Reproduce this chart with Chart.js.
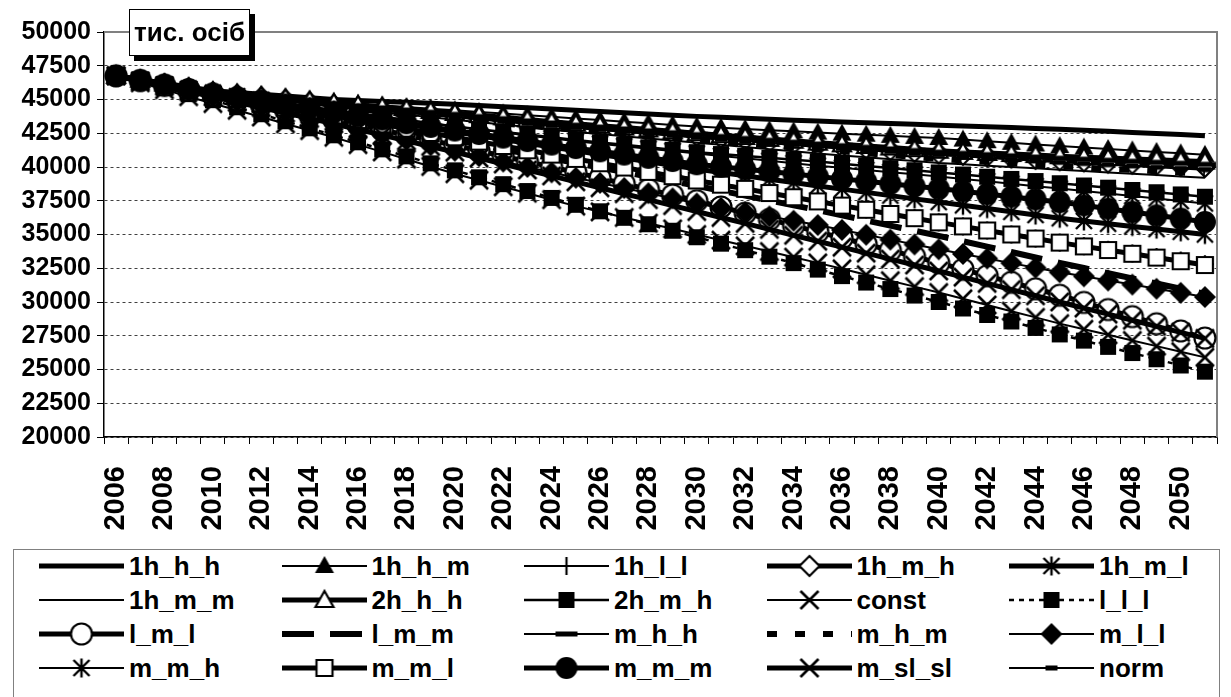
<!DOCTYPE html>
<html><head><meta charset="utf-8">
<script src="https://cdn.jsdelivr.net/npm/chart.js@4.4.0/dist/chart.umd.min.js"></script>
<style>
html,body{margin:0;padding:0;background:#fff;}
#wrap{position:relative;width:1231px;height:697px;overflow:hidden;background:#fff;}
#c{position:absolute;left:0;top:0;}
#unit{position:absolute;left:129px;top:9px;width:119px;height:45px;border:1px solid #000;background:#fff;box-shadow:5px 5px 0 #000;font:bold 26px "Liberation Sans",Arial,sans-serif;display:flex;align-items:center;justify-content:center;color:#000;}
#legend{position:absolute;left:13px;top:549px;width:1205px;height:170px;border:1px solid #808080;background:#fff;}
.li{position:absolute;height:30px;width:240px;}
.li canvas{position:absolute;left:0;top:0;}
.li span{position:absolute;left:90px;top:0;line-height:30px;font:bold 26px "Liberation Sans",Arial,sans-serif;white-space:nowrap;color:#000;}
</style></head>
<body>
<div id="wrap">
<canvas id="c" width="1231" height="697"></canvas>
<div id="unit">тис. осіб</div>
<div id="legend"></div>
</div>
<script>
// ---- data ----
const years = [2006,2007,2008,2009,2010,2011,2012,2013,2014,2015,2016,2017,2018,2019,2020,2021,2022,2023,2024,2025,2026,2027,2028,2029,2030,2031,2032,2033,2034,2035,2036,2037,2038,2039,2040,2041,2042,2043,2044,2045,2046,2047,2048,2049,2050,2051];
const yTicks = [20000,22500,25000,27500,30000,32500,35000,37500,40000,42500,45000,47500,50000];
const seriesNames = ['1h_h_h','1h_h_m','1h_l_l','1h_m_h','1h_m_l','1h_m_m','2h_h_h','2h_m_h','const','l_l_l','l_m_l','l_m_m','m_h_h','m_h_m','m_l_l','m_m_h','m_m_l','m_m_m','m_sl_sl','norm'];

const s_1h_h_h = [46750,46480,46200,45930,45650,45520,45390,45260,45130,45000,44930,44860,44790,44720,44650,44560,44470,44380,44290,44200,44110,44020,43930,43840,43750,43680,43610,43540,43470,43400,43340,43280,43220,43160,43100,43040,42980,42920,42860,42800,42720,42640,42560,42480,42400,42320];
const s_1h_h_m = [46750,46460,46180,45890,45600,45440,45280,45120,44960,44800,44680,44560,44440,44320,44200,44080,43960,43840,43720,43600,43480,43360,43240,43120,43000,42910,42820,42730,42640,42550,42470,42390,42310,42230,42150,42030,41910,41790,41670,41550,41440,41330,41230,41120,41010,40900];
const s_1h_l_l = [46750,46390,46030,45660,45300,44990,44680,44370,44060,43750,43440,43130,42820,42510,42200,41880,41560,41240,40920,40600,40300,40000,39700,39400,39100,38780,38460,38140,37820,37500,37180,36860,36540,36220,35900,35600,35300,35000,34700,34400,34130,33870,33600,33330,33070,32800];
const s_1h_m_h = [46750,46450,46150,45850,45550,45360,45170,44980,44790,44600,44440,44280,44120,43960,43800,43640,43480,43320,43160,43000,42860,42720,42580,42440,42300,42160,42020,41880,41740,41600,41480,41360,41240,41120,41000,40900,40800,40700,40600,40500,40420,40330,40250,40170,40080,40000];
const s_1h_m_l = [46750,46410,46080,45740,45400,45120,44840,44560,44280,44000,43720,43440,43160,42880,42600,42320,42040,41760,41480,41200,40930,40660,40390,40120,39850,39600,39350,39100,38850,38600,38360,38120,37880,37640,37400,37160,36920,36680,36440,36200,36000,35800,35600,35400,35200,35000];
const s_1h_m_m = [46750,46440,46130,45810,45500,45290,45080,44870,44660,44450,44260,44070,43880,43690,43500,43320,43140,42960,42780,42600,42440,42280,42120,41960,41800,41640,41480,41320,41160,41000,40860,40720,40580,40440,40300,40200,40100,40000,39900,39800,39700,39600,39500,39400,39300,39200];
const s_2h_h_h = [46750,46460,46180,45890,45600,45430,45260,45090,44920,44750,44600,44450,44300,44150,44000,43840,43680,43520,43360,43200,43060,42920,42780,42640,42500,42360,42220,42080,41940,41800,41680,41560,41440,41320,41200,41120,41040,40960,40880,40800,40730,40670,40600,40530,40470,40400];
const s_2h_m_h = [46750,46440,46130,45810,45500,45240,44980,44720,44460,44200,43960,43720,43480,43240,43000,42800,42600,42400,42200,42000,41820,41640,41460,41280,41100,40960,40820,40680,40540,40400,40240,40080,39920,39760,39600,39440,39280,39120,38960,38800,38630,38470,38300,38130,37970,37800];
const s_const = [46750,46240,45730,45210,44700,44200,43700,43200,42700,42200,41660,41120,40580,40040,39500,39020,38540,38060,37580,37100,36680,36260,35840,35420,35000,34580,34160,33740,33320,32900,32460,32020,31580,31140,30700,30240,29780,29320,28860,28400,27980,27570,27150,26730,26320,25900];
const s_l_l_l = [46750,46300,45850,45400,44950,44430,43910,43390,42870,42350,41830,41310,40790,40270,39750,39240,38730,38220,37710,37200,36720,36240,35760,35280,34800,34320,33840,33360,32880,32400,31920,31440,30960,30480,30000,29520,29040,28560,28080,27600,27140,26680,26220,25760,25300,24840];
const s_l_m_l = [46750,46400,46050,45700,45350,44980,44610,44240,43870,43500,43120,42740,42360,41980,41600,41200,40800,40400,40000,39600,39180,38760,38340,37920,37500,37040,36580,36120,35660,35200,34740,34280,33820,33360,32900,32420,31940,31460,30980,30500,29970,29440,28920,28390,27860,27330];
const s_l_m_m = [46750,46410,46080,45740,45400,45060,44720,44380,44040,43700,43360,43020,42680,42340,42000,41660,41320,40980,40640,40300,39960,39620,39280,38940,38600,38240,37880,37520,37160,36800,36420,36040,35660,35280,34900,34500,34100,33700,33300,32900,32520,32130,31750,31370,30980,30600];
const s_m_h_h = [46750,46460,46180,45890,45600,45420,45240,45060,44880,44700,44540,44380,44220,44060,43900,43740,43580,43420,43260,43100,42960,42820,42680,42540,42400,42260,42120,41980,41840,41700,41580,41460,41340,41220,41100,41010,40920,40830,40740,40650,40580,40500,40430,40350,40280,40200];
const s_m_h_m = [46750,46440,46130,45810,45500,45290,45080,44870,44660,44450,44270,44090,43910,43730,43550,43390,43230,43070,42910,42750,42600,42450,42300,42150,42000,41860,41720,41580,41440,41300,41160,41020,40880,40740,40600,40490,40380,40270,40160,40050,39960,39870,39780,39680,39590,39500];
const s_m_l_l = [46750,46380,46000,45630,45250,44840,44430,44020,43610,43200,42800,42400,42000,41600,41200,40800,40400,40000,39600,39200,38820,38440,38060,37680,37300,36980,36660,36340,36020,35700,35340,34980,34620,34260,33900,33560,33220,32880,32540,32200,31900,31590,31290,30980,30680,30370];
const s_m_m_h = [46750,46440,46130,45810,45500,45240,44980,44720,44460,44200,43960,43720,43480,43240,43000,42780,42560,42340,42120,41900,41720,41540,41360,41180,41000,40820,40640,40460,40280,40100,39940,39780,39620,39460,39300,39120,38940,38760,38580,38400,38220,38030,37850,37670,37480,37300];
const s_m_m_l = [46750,46400,46050,45700,45350,45040,44730,44420,44110,43800,43480,43160,42840,42520,42200,41880,41560,41240,40920,40600,40280,39960,39640,39320,39000,38690,38380,38070,37760,37450,37140,36830,36520,36210,35900,35600,35300,35000,34700,34400,34120,33850,33570,33290,33020,32740];
const s_m_m_m = [46750,46430,46100,45780,45450,45170,44890,44610,44330,44050,43780,43510,43240,42970,42700,42440,42180,41920,41660,41400,41160,40920,40680,40440,40200,40020,39840,39660,39480,39300,39120,38940,38760,38580,38400,38200,38000,37800,37600,37400,37160,36910,36670,36420,36180,35930];
const s_m_sl_sl = [46750,46360,45980,45590,45200,44800,44400,44000,43600,43200,42780,42360,41940,41520,41100,40660,40220,39780,39340,38900,38460,38020,37580,37140,36700,36260,35820,35380,34940,34500,34060,33620,33180,32740,32300,31840,31380,30920,30460,30000,29550,29100,28650,28200,27750,27300];
const s_norm = [46750,46450,46150,45850,45550,45350,45150,44950,44750,44550,44380,44210,44040,43870,43700,43540,43380,43220,43060,42900,42760,42620,42480,42340,42200,42060,41920,41780,41640,41500,41380,41260,41140,41020,40900,40790,40680,40570,40460,40350,40260,40170,40080,39980,39890,39800];

const seriesValues = [s_1h_h_h,s_1h_h_m,s_1h_l_l,s_1h_m_h,s_1h_m_l,s_1h_m_m,s_2h_h_h,s_2h_m_h,s_const,s_l_l_l,s_l_m_l,s_l_m_m,s_m_h_h,s_m_h_m,s_m_l_l,s_m_m_h,s_m_m_l,s_m_m_m,s_m_sl_sl,s_norm];

// ---- styles ----
const STY = {
 '1h_h_h': {w:5, m:null},
 '1h_h_m': {w:2, m:'triF'},
 '1h_l_l': {w:2, m:'plus'},
 '1h_m_h': {w:5, m:'diaO'},
 '1h_m_l': {w:5, m:'star'},
 '1h_m_m': {w:2, m:null},
 '2h_h_h': {w:5, m:'triO'},
 '2h_m_h': {w:2.5, m:'sqF'},
 'const': {w:2, m:'x'},
 'l_l_l': {w:2.5, m:'sqF', dash:[5,5]},
 'l_m_l': {w:5, m:'cirO'},
 'l_m_m': {w:6, m:null, dash:[32,16]},
 'm_h_h': {w:2, m:'dashL'},
 'm_h_m': {w:6, m:null, dash:[10,18]},
 'm_l_l': {w:2, m:'diaF'},
 'm_m_h': {w:2, m:'star'},
 'm_m_l': {w:5, m:'sqO'},
 'm_m_m': {w:5, m:'cirF'},
 'm_sl_sl': {w:5, m:'x'},
 'norm': {w:2, m:'dashS'}
};

function marker(type){
  const s = 26, c = document.createElement('canvas');
  c.width = s; c.height = s;
  const g = c.getContext('2d');
  g.translate(s/2, s/2);
  g.strokeStyle = '#000'; g.fillStyle = '#000'; g.lineWidth = 2.2; g.lineJoin='miter';
  const poly = (pts, fill) => { g.beginPath(); pts.forEach((p,i)=> i? g.lineTo(p[0],p[1]) : g.moveTo(p[0],p[1])); g.closePath(); if(fill){g.fillStyle='#000';g.fill();} else {g.fillStyle='#fff'; g.fill(); g.stroke();} };
  switch(type){
    case 'triF': poly([[0,-10],[9.5,7],[-9.5,7]], true); break;
    case 'triO': poly([[0,-9],[9,7],[-9,7]], false); break;
    case 'plus': g.beginPath(); g.moveTo(-9,0); g.lineTo(9,0); g.moveTo(0,-9); g.lineTo(0,9); g.stroke(); break;
    case 'diaO': poly([[0,-10],[10,0],[0,10],[-10,0]], false); break;
    case 'diaF': poly([[0,-11],[11,0],[0,11],[-11,0]], true); break;
    case 'star': g.lineWidth=2.4; g.beginPath(); g.moveTo(0,-9.5); g.lineTo(0,9.5); g.moveTo(-8,-8); g.lineTo(8,8); g.moveTo(8,-8); g.lineTo(-8,8); g.stroke(); break;
    case 'sqF': g.fillRect(-8,-8,16,16); break;
    case 'sqO': poly([[-8,-8],[8,-8],[8,8],[-8,8]], false); break;
    case 'x': g.lineWidth=2.6; g.beginPath(); g.moveTo(-9,-9); g.lineTo(9,9); g.moveTo(9,-9); g.lineTo(-9,9); g.stroke(); break;
    case 'cirO': g.beginPath(); g.arc(0,0,10.5,0,Math.PI*2); g.fillStyle='#fff'; g.fill(); g.stroke(); break;
    case 'cirF': g.beginPath(); g.arc(0,0,11,0,Math.PI*2); g.fill(); break;
    case 'dashL': g.fillRect(-11,-2.5,22,5); break;
    case 'dashS': g.fillRect(-6,-2.5,12,5); break;
  }
  return c;
}
const MK = {};
Object.values(STY).forEach(s => { if (s.m && !MK[s.m]) MK[s.m] = marker(s.m); });

const datasets = seriesNames.map((n, i) => {
  const st = STY[n];
  return {
    label: n,
    data: seriesValues[i],
    borderColor: '#000',
    backgroundColor: '#000',
    borderWidth: st.w,
    borderDash: st.dash || [],
    borderJoinStyle: 'round',
    borderCapStyle: 'butt',
    fill: false,
    tension: 0,
    pointStyle: st.m ? MK[st.m] : 'circle',
    pointRadius: st.m ? 9 : 0,
    pointHoverRadius: st.m ? 9 : 0,
    order: seriesNames.length - i
  };
});

const frame = {
  id: 'frame',
  beforeDatasetsDraw(chart){
    const {ctx, chartArea:a} = chart;
    ctx.save(); ctx.strokeStyle = '#808080'; ctx.lineWidth = 2; ctx.setLineDash([]);
    ctx.beginPath(); ctx.moveTo(a.left, a.top); ctx.lineTo(a.right, a.top); ctx.lineTo(a.right, a.bottom); ctx.stroke();
    ctx.restore();
  }
};

Chart.defaults.font.family = '"Liberation Sans", Arial, sans-serif';
Chart.defaults.font.weight = 'bold';
Chart.defaults.color = '#000';

new Chart(document.getElementById('c'), {
  type: 'line',
  data: { labels: years, datasets },
  options: {
    responsive: false,
    animation: false,
    devicePixelRatio: 1,
    layout: { padding: { left: 0, top: 32, right: 11, bottom: 160 } },
    plugins: { legend: { display: false }, tooltip: { enabled: false } },
    scales: {
      x: {
        type: 'category',
        offset: true,
        grid: { display: true, drawOnChartArea: false, drawTicks: true, tickLength: 7, offset: true, color: '#000', tickColor: '#000' },
        border: { display: true, color: '#000', width: 1.5 },
        ticks: {
          autoSkip: false, minRotation: 90, maxRotation: 90, padding: 22,
          font: { size: 29, weight: 'bold' }, color: '#000',
          callback: (v, i) => (i % 2 === 0 ? String(years[i]) : '')
        },
        afterFit: s => { s.height = 100; s.paddingLeft = 0; s.paddingRight = 0; }
      },
      y: {
        min: 20000, max: 50000,
        afterBuildTicks: s => { s.ticks = yTicks.map(v => ({ value: v })); },
        grid: { display: true, color: '#404040', lineWidth: 1, tickLength: 7, tickColor: '#000', drawTicks: true },
        border: { display: true, color: '#000', width: 1.5, dash: [3, 3] },
        ticks: { padding: 6, font: { size: 25, weight: 'bold' }, color: '#000', callback: v => String(v) },
        afterFit: s => { s.width = 104; }
      }
    }
  },
  plugins: [frame]
});

// ---- legend (HTML) ----
const leg = document.getElementById('legend');
const colX = [25, 267.5, 510, 752.5, 995];
const rowY = [16, 50, 84, 118];
seriesNames.forEach((n, i) => {
  const r = Math.floor(i / 5), c = i % 5;
  const st = STY[n];
  const d = document.createElement('div');
  d.className = 'li';
  d.style.left = colX[c] + 'px';
  d.style.top = (rowY[r] - 15) + 'px';
  const cv = document.createElement('canvas');
  cv.width = 88; cv.height = 30;
  const g = cv.getContext('2d');
  g.strokeStyle = '#000'; g.lineWidth = st.w; g.setLineDash(st.dash || []); g.lineCap = 'butt';
  g.beginPath(); g.moveTo(0, 15); g.lineTo(85, 15); g.stroke();
  if (st.m) g.drawImage(MK[st.m], 42.5 - 13, 15 - 13);
  const sp = document.createElement('span');
  sp.textContent = n;
  d.appendChild(cv); d.appendChild(sp);
  leg.appendChild(d);
});
</script>
</body></html>
